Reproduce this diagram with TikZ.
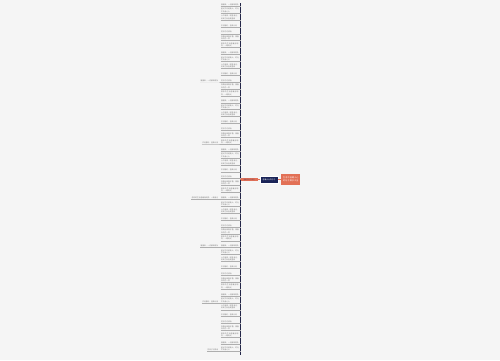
\documentclass[tikz,border=0pt]{standalone}
\usepackage{fontspec}
\newfontfamily\cjk{Noto Sans CJK SC}
\XeTeXlinebreaklocale "zh"
\XeTeXlinebreakskip=0pt plus 1pt
\usetikzlibrary{positioning}
\definecolor{bgcolor}{RGB}{245,245,245}
\definecolor{rootcolor}{RGB}{26,36,88}
\definecolor{branchcolor}{RGB}{226,112,86}
\definecolor{leafgray}{RGB}{120,120,120}
\definecolor{barcolor}{RGB}{35,38,72}

\newcommand\leaftext[1]{\ifcase#1 愿你的生活温暖而明亮，一路有光
  \or 把日子过成诗
  \or 心中有爱，眼里有光，所到之处皆是温柔
  \or 慢慢来，一切都来得及
  \or 你笑起来真好看，像春天的花一样
  \or 岁月静好，温柔以待
  \or 星光不问赶路人，时光不负有心人\fi}

\begin{document}
\begin{tikzpicture}[x=1pt, y=-1pt,
    rootnode/.style={fill=rootcolor, draw=white, line width=0.3pt, minimum width=18pt, minimum height=7pt, inner sep=0.5pt, text=white, align=center, font=\cjk\fontsize{1.8}{2.2}\selectfont},
    topicnode/.style={fill=branchcolor, minimum width=19pt, minimum height=11pt, inner sep=0.8pt, text width=17pt, text=white, align=center, font=\cjk\fontsize{2}{2.6}\selectfont},
    branchnode/.style={fill=branchcolor, minimum width=17pt, minimum height=3pt, inner sep=0.3pt, text=rootcolor!60!branchcolor, font=\cjk\fontsize{1.6}{1.8}\selectfont},
    leaf/.style={inner sep=0.3pt, text width=18pt, align=left, text=leafgray, font=\cjk\fontsize{1.75}{2.3}\selectfont},
    farleaf/.style={inner sep=0.3pt, text=leafgray, font=\cjk\fontsize{1.75}{2.3}\selectfont},
    leafline/.style={draw=leafgray!60, line width=0.2pt},
    link/.style={draw=branchcolor, line width=0.8pt}
]
    \useasboundingbox[fill=bgcolor] (0,0) rectangle (500,360);

    % Centre and right topic
    \node[rootnode] (root) at (269,179.5) {温暖人心的句子};
    \node[topicnode, right=3pt of root] (topic) {生活中温暖人心的句子摘抄大全};
    \node[branchnode, left=2pt of root] (branch) {温暖的句子精选};
    \draw[link] (root) -- (topic);
    \draw[link] (root) -- (branch);

    % Bracket of the left branch
    \coordinate (bartop) at (240.5,3);
    \coordinate (barbot) at (240.5,355);
    \draw[barcolor, line width=0.8pt] (bartop) -- (barbot);
    \draw[link] (branch.west) -- (branch.west -| bartop);

    % Leaves
    \foreach \i in {1,...,51}{
        \pgfmathsetmacro\ly{6+(\i-1)*6.9}
        \pgfmathtruncatemacro\k{mod(\i*3,7)}
        \node[leaf, anchor=south east] (leaf-\i) at (239.5,\ly) {\leaftext{\k}};
        \draw[leafline] (leaf-\i.south west) -- (leaf-\i.south west -| bartop);
    }

    % Leaves further out
    \foreach \j/\k in {12/3, 21/5, 29/0, 36/3, 44/5, 51/1}{
        \node[farleaf, anchor=south east] (far-\j) at ([xshift=-2pt]leaf-\j.south west) {\leaftext{\k}};
        \draw[leafline] (far-\j.south west) -- (far-\j.south east) -- (leaf-\j.south west);
    }
\end{tikzpicture}
\end{document}
